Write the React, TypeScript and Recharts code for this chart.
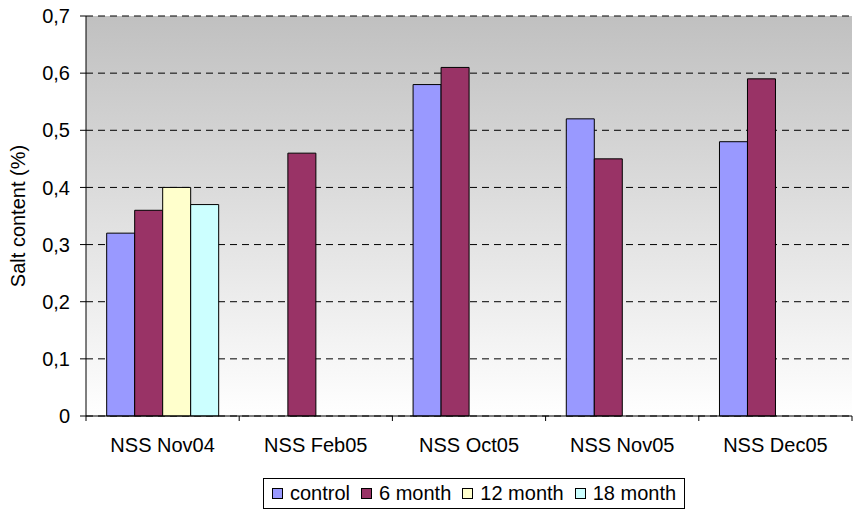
import React from "react";
import {
  BarChart,
  Bar,
  XAxis,
  YAxis,
  CartesianGrid,
  Legend,
  Label,
} from "recharts";

const CATEGORIES = ["NSS Nov04", "NSS Feb05", "NSS Oct05", "NSS Nov05", "NSS Dec05"];
const CONTROL = [0.32, null, 0.58, 0.52, 0.48];
const SIX_MONTH = [0.36, 0.46, 0.61, 0.45, 0.59];
const TWELVE_MONTH = [0.4, null, null, null, null];
const EIGHTEEN_MONTH = [0.37, null, null, null, null];
const Y_TICKS = [0, 0.1, 0.2, 0.3, 0.4, 0.5, 0.6, 0.7];

const SERIES = [
  { key: "control", name: "control", color: "#9999FF", values: CONTROL },
  { key: "m6", name: "6 month", color: "#993366", values: SIX_MONTH },
  { key: "m12", name: "12 month", color: "#FFFFCC", values: TWELVE_MONTH },
  { key: "m18", name: "18 month", color: "#CCFFFF", values: EIGHTEEN_MONTH },
];

const data = CATEGORIES.map((cat, i) => {
  const row: Record<string, string | number | null> = { cat };
  SERIES.forEach((s) => (row[s.key] = s.values[i]));
  return row;
});

const FONT = "'Liberation Sans', Arial, sans-serif";
const FONT_SIZE = 20;

// category label plus tick marks on the category boundaries
function CategoryTick(props: any) {
  const { x, y, payload, index, visibleTicksCount } = props;
  const half = payload?.offset ?? 76.6;
  const last = index === (visibleTicksCount ?? CATEGORIES.length) - 1;
  return (
    <g>
      <line x1={x - half} x2={x - half} y1={y} y2={y + 5} stroke="#000" />
      {last && <line x1={x + half} x2={x + half} y1={y} y2={y + 5} stroke="#000" />}
      <text x={x} y={y + 22} dy="0.71em" textAnchor="middle" fontSize={FONT_SIZE} fill="#000" fontFamily={FONT}>
        {payload.value}
      </text>
    </g>
  );
}

function LegendBox() {
  return (
    <div
      style={{
        border: "1px solid #000",
        height: 31,
        boxSizing: "border-box",
        padding: "0 8px",
        display: "flex",
        alignItems: "center",
        gap: 11,
        fontFamily: FONT,
        fontSize: FONT_SIZE,
        color: "#000",
        background: "#fff",
      }}
    >
      {SERIES.map((s) => (
        <span key={s.key} style={{ display: "flex", alignItems: "center" }}>
          <span
            style={{
              width: 9,
              height: 9,
              background: s.color,
              border: "1px solid #000",
              marginRight: 7,
              display: "inline-block",
            }}
          />
          {s.name}
        </span>
      ))}
    </div>
  );
}

export default function App() {
  return (
    <div style={{ position: "absolute", left: 0, top: 0, width: 854, height: 510, background: "#fff" }}>
      <BarChart
        width={854}
        height={510}
        data={data}
        margin={{ top: 16, right: 2, bottom: 0, left: 0 }}
        barCategoryGap="13.5%"
        barGap={0}
      >
        <defs>
          <linearGradient id="plotBg" x1="0" y1="0" x2="0" y2="1">
            <stop offset="0%" stopColor="#c0c0c0" />
            <stop offset="100%" stopColor="#ffffff" />
          </linearGradient>
        </defs>
        <CartesianGrid
          vertical={false}
          fill="url(#plotBg)"
          stroke="#000"
          strokeDasharray="7 5"
        />
        <XAxis
          dataKey="cat"
          stroke="#000"
          tickLine={false}
          tickSize={0}
          tickMargin={0}
          tick={<CategoryTick />}
          height={63}
          interval={0}
        />
        <YAxis
          domain={[0, 0.7]}
          ticks={Y_TICKS}
          width={86}
          stroke="#000"
          tickSize={6}
          tickMargin={10}
          tick={{ fontSize: FONT_SIZE, fill: "#000", fontFamily: FONT }}
          tickFormatter={(v: number) => String(v).replace(".", ",")}
        >
          <Label
            value="Salt content (%)"
            angle={-90}
            position="insideLeft"
            offset={18}
            style={{ textAnchor: "middle", fontSize: FONT_SIZE, fill: "#000", fontFamily: FONT }}
          />
        </YAxis>
        <Legend
          verticalAlign="bottom"
          content={() => <LegendBox />}
          wrapperStyle={{ left: 263, width: "auto", bottom: 1 }}
        />
        {SERIES.map((s) => (
          <Bar
            key={s.key}
            dataKey={s.key}
            name={s.name}
            fill={s.color}
            stroke="#000"
            strokeWidth={1}
            isAnimationActive={false}
          />
        ))}
      </BarChart>
    </div>
  );
}
